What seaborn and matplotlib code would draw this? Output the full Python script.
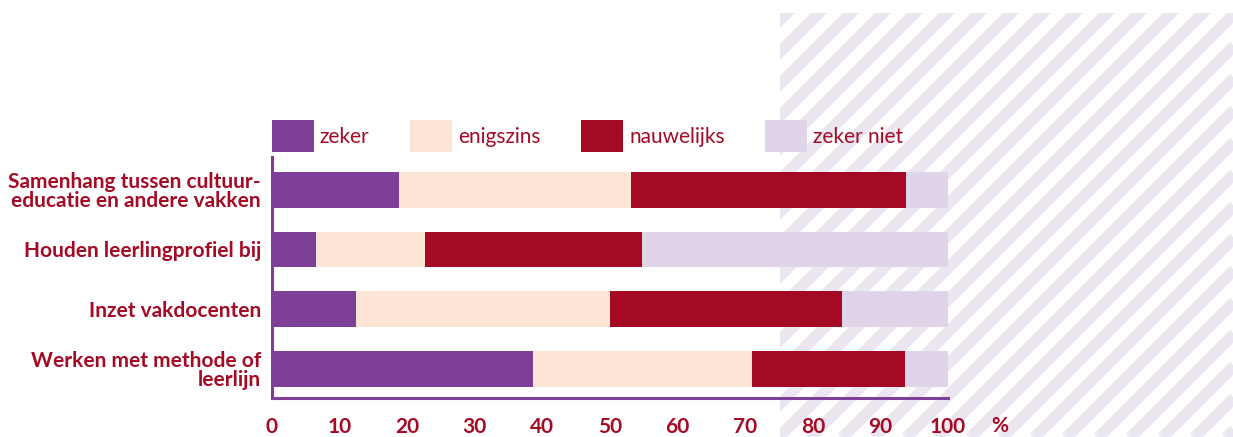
import numpy as np
import pandas as pd
import matplotlib
matplotlib.use("Agg")
import matplotlib.pyplot as plt
import seaborn as sns
from matplotlib.patches import Patch, Rectangle

# data (percentages per category)
categories = [
    "Samenhang tussen cultuur-\neducatie en andere vakken",
    "Houden leerlingprofiel bij",
    "Inzet vakdocenten",
    "Werken met methode of\nleerlijn",
]
series_names = ["zeker", "enigszins", "nauwelijks", "zeker niet"]
zeker = [18.8, 6.5, 12.4, 38.6]
enigszins = [34.3, 16.1, 37.6, 32.4]
nauwelijks = [40.7, 32.1, 34.3, 22.6]
zeker_niet = [6.2, 45.3, 15.7, 6.4]
xticks = [0, 10, 20, 30, 40, 50, 60, 70, 80, 90, 100]

colors = ["#7d3f98", "#fde5d5", "#a50a24", "#e0d5e8"]
text_red = "#a50a24"
spine_purple = "#7d3f98"

sns.set_style("white")
plt.rcParams["font.family"] = ["Lato", "DejaVu Sans"]

df = pd.DataFrame({"cat": categories, "zeker": zeker, "enigszins": enigszins,
                   "nauwelijks": nauwelijks, "zeker niet": zeker_niet})
cum = df[series_names].cumsum(axis=1)

W, H = 1233, 437
fig = plt.figure(figsize=(W / 100, H / 100), dpi=100)

# striped background panel on the right
bg = fig.add_axes([0, 0, 1, 1], zorder=0)
bg.set_xlim(0, W)
bg.set_ylim(H, 0)
bg.axis("off")
clip = Rectangle((780, 13), W - 780, H - 13, transform=bg.transData,
                 facecolor="none", edgecolor="none")
bg.add_patch(clip)
for c in np.arange(780 - H, W + 40, 32):
    ln, = bg.plot([c, c + H + 40], [H + 20, -20], color="#ece6f1", lw=8.2,
                  solid_capstyle="butt")
    ln.set_clip_path(clip)

ax = fig.add_axes([272 / W, (H - 398) / H, (948 - 272) / W, (398 - 157) / H], zorder=1)
ax.patch.set_alpha(0)

# stacked bars: draw cumulative totals from the back to the front
for name, col in reversed(list(zip(series_names, colors))):
    sns.barplot(x=cum[name], y=df["cat"], orient="h", color=col, width=0.6,
                saturation=1, ax=ax, linewidth=0)

ax.set_xlim(0, 100)
ax.set_ylim(3.49, -0.55)
ax.set_xlabel("")
ax.set_ylabel("")
ax.set_xticks(xticks)
ax.set_xticklabels([str(t) for t in xticks])
ax.tick_params(axis="both", length=0, labelcolor=text_red, labelsize=15)
ax.tick_params(axis="y", pad=8)
ax.tick_params(axis="x", pad=14)
for lab in ax.get_yticklabels() + ax.get_xticklabels():
    lab.set_fontweight("bold")
for lab in ax.get_yticklabels():
    lab.set_linespacing(0.95)

for s in ["top", "right"]:
    ax.spines[s].set_visible(False)
for s in ["left", "bottom"]:
    ax.spines[s].set_color(spine_purple)
    ax.spines[s].set_linewidth(2.2)

fig.text(1000 / W, (H - 426) / H, "%", color=text_red, fontsize=15,
         fontweight="bold", ha="center", va="center")

handles = [Patch(facecolor=c, edgecolor="none") for c in colors]
leg = ax.legend(handles, series_names, loc="lower left", bbox_to_anchor=(0, 1.02),
                ncol=4, frameon=False, fontsize=15, handlelength=2.0,
                handleheight=2.0, handletextpad=0.3, columnspacing=1.95,
                borderpad=0, borderaxespad=0)
for t in leg.get_texts():
    t.set_color(text_red)

fig.savefig("out.png", dpi=100)
